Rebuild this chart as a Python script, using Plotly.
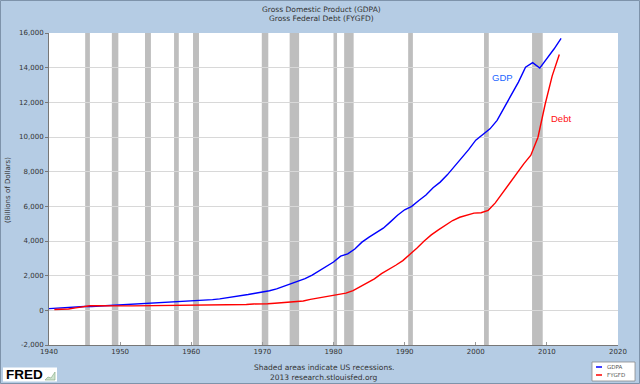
import plotly.graph_objects as go

# ---------------- data ----------------
gdp_years = list(range(1940, 2013))
gdp_values = [101.4, 126.7, 161.9, 198.6, 219.8, 223.0, 222.2, 244.1, 269.1, 267.2,
              293.7, 339.3, 358.3, 379.3, 380.4, 414.7, 437.4, 461.1, 467.2, 506.6,
              526.4, 544.7, 585.6, 617.7, 663.6, 719.1, 787.8, 832.6, 910.0, 984.6,
              1038.5, 1127.1, 1238.3, 1382.7, 1500.0, 1638.3, 1825.3, 2030.9, 2294.7, 2563.3,
              2789.5, 3128.4, 3255.0, 3536.7, 3933.2, 4220.3, 4462.8, 4739.5, 5103.8, 5484.4,
              5803.1, 5995.9, 6337.7, 6657.4, 7072.2, 7397.7, 7816.9, 8304.3, 8747.0, 9268.4,
              9817.0, 10128.0, 10469.6, 10960.8, 11685.9, 12421.9, 13166.1, 14028.7, 14291.5, 13973.7,
              14498.9, 15075.7, 15684.8]

debt_years = list(range(1940, 2012))
debt_values = [50.7, 57.5, 79.2, 142.6, 204.1, 260.1, 271.0, 257.1, 252.0, 252.6,
               256.9, 255.3, 259.1, 266.0, 270.8, 274.4, 272.7, 272.3, 279.7, 287.5,
               290.5, 292.6, 302.9, 310.3, 316.1, 322.3, 328.5, 340.4, 368.7, 365.8,
               380.9, 408.2, 435.9, 466.3, 483.9, 541.9, 629.0, 706.4, 776.6, 829.5,
               909.0, 994.8, 1137.3, 1371.7, 1564.6, 1817.4, 2120.5, 2346.0, 2601.1, 2867.8,
               3206.3, 3598.2, 4001.8, 4351.0, 4643.3, 4920.6, 5181.5, 5369.2, 5478.2, 5605.5,
               5628.7, 5769.9, 6198.4, 6760.0, 7354.7, 7905.3, 8451.4, 8950.7, 9986.1, 11875.9,
               13528.8, 14764.2]

recession_starts = ["1945-02-01", "1948-11-01", "1953-07-01", "1957-08-01", "1960-04-01",
                    "1969-12-01", "1973-11-01", "1980-01-01", "1981-07-01", "1990-07-01",
                    "2001-03-01", "2007-12-01"]
recession_ends = ["1945-10-01", "1949-10-01", "1954-05-01", "1958-04-01", "1961-02-01",
                  "1970-11-01", "1975-03-01", "1980-07-01", "1982-11-01", "1991-03-01",
                  "2001-11-01", "2009-06-01"]

series_names = ["GDPA", "FYGFD"]
series_colors = ["#0000FF", "#FF0000"]
x_tick_years = [1940, 1950, 1960, 1970, 1980, 1990, 2000, 2010, 2020]
y_ticks = [-2000, 0, 2000, 4000, 6000, 8000, 10000, 12000, 14000, 16000]

# ---------------- figure ----------------
W, H = 640, 384
L, R, T, B = 49, 22, 33, 39
pw, ph = W - L - R, H - T - B

def px(xp):  # page x -> paper x
    return (xp - L) / pw

def py(yp):  # page y -> paper y
    return (H - B - yp) / ph

FONT = "DejaVu Sans"
bg = "#B5CCE4"

gdp_dates = [f"{y}-01-01" for y in gdp_years]
debt_dates = [f"{y}-10-01" for y in debt_years]

fig = go.Figure()
fig.add_trace(go.Scatter(x=gdp_dates, y=gdp_values, mode="lines", name=series_names[0],
                         line=dict(color=series_colors[0], width=1.4), showlegend=False))
fig.add_trace(go.Scatter(x=debt_dates, y=debt_values, mode="lines", name=series_names[1],
                         line=dict(color=series_colors[1], width=1.4), showlegend=False))

shapes = []
for s, e in zip(recession_starts, recession_ends):
    shapes.append(dict(type="rect", xref="x", yref="paper", x0=s, x1=e, y0=0, y1=1,
                       fillcolor="#BEBEBE", line=dict(width=0), layer="below"))

# page border
shapes.append(dict(type="rect", xref="paper", yref="paper",
                   x0=px(0.5), x1=px(639.5), y0=py(0.5), y1=py(383.5),
                   line=dict(color="#7E93AA", width=1), fillcolor="rgba(0,0,0,0)"))

# custom legend box
shapes.append(dict(type="rect", xref="paper", yref="paper",
                   x0=px(592), x1=px(635), y0=py(362), y1=py(381),
                   line=dict(color="#8A8A8A", width=0.8), fillcolor="white"))
annotations = []
for i, (nm, col) in enumerate(zip(series_names, series_colors)):
    yy = 367 + i * 8
    shapes.append(dict(type="line", xref="paper", yref="paper",
                       x0=px(596), x1=px(602), y0=py(yy), y1=py(yy),
                       line=dict(color=col, width=1.5)))
    annotations.append(dict(xref="paper", yref="paper", x=px(605), y=py(yy), text=nm,
                            showarrow=False, xanchor="left", yanchor="middle",
                            font=dict(family=FONT, size=5.5, color="#555555")))

# FRED logo
shapes.append(dict(type="rect", xref="paper", yref="paper",
                   x0=px(3), x1=px(57), y0=py(367.5), y1=py(381.5),
                   line=dict(width=0), fillcolor="white"))
shapes.append(dict(type="path", xref="paper", yref="paper",
                   path=f"M {px(45)},{py(380)} L {px(48)},{py(377)} L {px(51)},{py(378)} L {px(55)},{py(372)} L {px(55)},{py(380)} Z",
                   line=dict(color="#7FA87F", width=0.6), fillcolor="#CFE3CF"))
annotations.append(dict(xref="paper", yref="paper", x=px(4), y=py(374.5), text="<b>FRED</b>",
                        showarrow=False, xanchor="left", yanchor="middle",
                        font=dict(family="Liberation Sans", size=13.5, color="black")))

# titles
annotations.append(dict(xref="paper", yref="paper", x=px(321), y=py(9),
                        text="Gross Domestic Product (GDPA)", showarrow=False,
                        xanchor="center", yanchor="middle",
                        font=dict(family=FONT, size=7.5, color="#333333")))
annotations.append(dict(xref="paper", yref="paper", x=px(321), y=py(19),
                        text="Gross Federal Debt (FYGFD)", showarrow=False,
                        xanchor="center", yanchor="middle",
                        font=dict(family=FONT, size=7.5, color="#333333")))
annotations.append(dict(xref="paper", yref="paper", x=px(8), y=py(190),
                        text="(Billions of Dollars)", showarrow=False, textangle=-90,
                        xanchor="center", yanchor="middle",
                        font=dict(family=FONT, size=7, color="#333333")))
annotations.append(dict(xref="paper", yref="paper", x=px(324), y=py(367),
                        text="Shaded areas indicate US recessions.", showarrow=False,
                        xanchor="center", yanchor="middle",
                        font=dict(family=FONT, size=7.5, color="#333333")))
annotations.append(dict(xref="paper", yref="paper", x=px(324), y=py(377),
                        text="2013 research.stlouisfed.org", showarrow=False,
                        xanchor="center", yanchor="middle",
                        font=dict(family=FONT, size=7.5, color="#333333")))

# series labels
annotations.append(dict(xref="x", yref="y", x="2003-10-01", y=13450, text="GDP",
                        showarrow=False, xanchor="center", yanchor="middle",
                        font=dict(family="Liberation Sans", size=9.5, color="#2266FF")))
annotations.append(dict(xref="x", yref="y", x="2012-01-15", y=11080, text="Debt",
                        showarrow=False, xanchor="center", yanchor="middle",
                        font=dict(family="Liberation Sans", size=9.5, color="#FF1010")))

fig.update_layout(
    width=W, height=H,
    margin=dict(l=L, r=R, t=T, b=B, pad=0),
    paper_bgcolor=bg, plot_bgcolor="white",
    shapes=shapes, annotations=annotations,
    showlegend=False,
    xaxis=dict(type="date", range=["1940-01-01", "2020-01-01"],
               tickvals=[f"{y}-01-01" for y in x_tick_years],
               ticktext=[str(y) for y in x_tick_years],
               showgrid=False, zeroline=False,
               showline=True, linecolor="#777777", linewidth=1,
               ticks="inside", ticklen=3, tickcolor="#999999",
               tickfont=dict(family=FONT, size=7, color="#333333")),
    yaxis=dict(range=[-2000, 16000], tickvals=y_ticks,
               ticktext=[f"{v:,}" for v in y_ticks],
               showgrid=True, gridcolor="#D8D8D8", gridwidth=1, zeroline=False,
               showline=True, linecolor="#777777", linewidth=1,
               ticks="outside", ticklen=3, tickcolor="#777777",
               tickfont=dict(family=FONT, size=7, color="#333333")),
)

fig.write_html("out.html", config={"displayModeBar": False},
               post_script="document.body.style.margin='0';document.body.style.padding='0';document.body.style.overflow='hidden';")
